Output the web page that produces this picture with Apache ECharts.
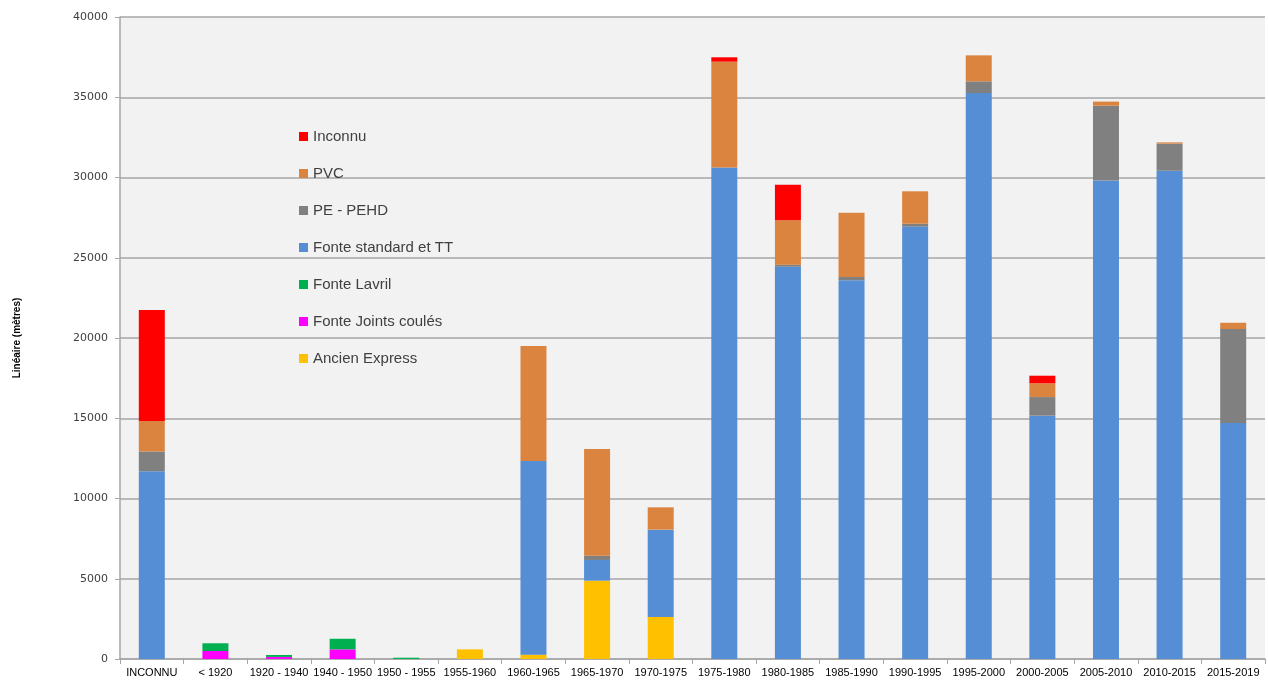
<!DOCTYPE html>
<html><head><meta charset="utf-8">
<script src="https://cdn.jsdelivr.net/npm/echarts@6/dist/echarts.min.js"></script>
<style>html,body{margin:0;padding:0;background:#fff}#c{width:1268px;height:682px}</style>
</head><body><div id="c"></div>
<script>
const categories = ["INCONNU","< 1920","1920 - 1940","1940 - 1950","1950 - 1955","1955-1960","1960-1965","1965-1970","1970-1975","1975-1980","1980-1985","1985-1990","1990-1995","1995-2000","2000-2005","2005-2010","2010-2015","2015-2019"];
const ancienExpress  = [0,0,0,0,0,600,270,4880,2620,0,0,0,0,0,0,0,0,0];
const fonteJoints    = [0,500,130,600,0,0,0,0,0,0,0,0,0,0,0,0,0,0];
const fonteLavril    = [0,480,120,660,80,0,0,0,0,0,0,0,0,0,0,0,0,0];
const fonteStandard  = [11700,0,0,0,0,0,12070,1290,5440,30630,24440,23600,26940,35260,15160,29820,30420,14700];
const pePehd         = [1230,0,0,0,0,0,0,270,0,0,130,200,180,730,1160,4650,1690,5860];
const pvc            = [1900,0,0,0,0,0,7160,6640,1390,6590,2760,4000,2020,1620,860,260,80,390];
const inconnu        = [6910,0,0,0,0,0,0,0,0,270,2220,0,0,0,470,0,0,0];
const yTicks = {min:0, max:40000, interval:5000};

const seriesDefs = [
  ["Ancien Express", ancienExpress, "#ffc000"],
  ["Fonte Joints coulés", fonteJoints, "#ff00ff"],
  ["Fonte Lavril", fonteLavril, "#00b050"],
  ["Fonte standard et TT", fonteStandard, "#558ed5"],
  ["PE - PEHD", pePehd, "#808080"],
  ["PVC", pvc, "#db8440"],
  ["Inconnu", inconnu, "#ff0000"]
];
const legendOrder = ["Inconnu","PVC","PE - PEHD","Fonte standard et TT","Fonte Lavril","Fonte Joints coulés","Ancien Express"];

const chart = echarts.init(document.getElementById('c'), null, {renderer:'canvas'});
chart.setOption({
  animation:false,
  backgroundColor:'#ffffff',
  legend:{
    data:legendOrder, orient:'vertical', left:294, top:124,
    itemWidth:9, itemHeight:9, itemGap:22, icon:'rect',
    textStyle:{fontFamily:'Liberation Sans, sans-serif', fontSize:15, color:'#404040', padding:[0,0,0,0]}
  },
  grid:{left:120, right:3, top:17, bottom:23, show:true, backgroundColor:'#f2f2f2', borderWidth:0},
  xAxis:{
    type:'category', data:categories,
    axisLine:{lineStyle:{color:'#a6a6a6', width:1.5}},
    axisTick:{show:true, alignWithLabel:false, length:5, lineStyle:{color:'#a6a6a6'}},
    axisLabel:{interval:0, color:'#000', fontFamily:'Liberation Sans, sans-serif', fontSize:11, margin:8}
  },
  yAxis:{
    type:'value', min:yTicks.min, max:yTicks.max, interval:yTicks.interval,
    name:'Linéaire (mètres)', nameLocation:'middle', nameGap:98, nameRotate:90,
    nameTextStyle:{fontFamily:'Liberation Sans, sans-serif', fontWeight:'bold', fontSize:10, color:'#000'},
    axisLine:{show:true, lineStyle:{color:'#a6a6a6', width:1.5}},
    axisTick:{show:true, length:5, lineStyle:{color:'#a6a6a6'}},
    axisLabel:{color:'#404040', fontFamily:'DejaVu Sans, sans-serif', fontSize:11, margin:12, formatter:v=>String(v)},
    splitLine:{lineStyle:{color:'#a6a6a6', width:1.5}}
  },
  series: seriesDefs.map(([name,data,color]) => ({
    name, type:'bar', stack:'total', data, barWidth:26,
    itemStyle:{color, borderWidth:0}
  }))
});
</script></body></html>
